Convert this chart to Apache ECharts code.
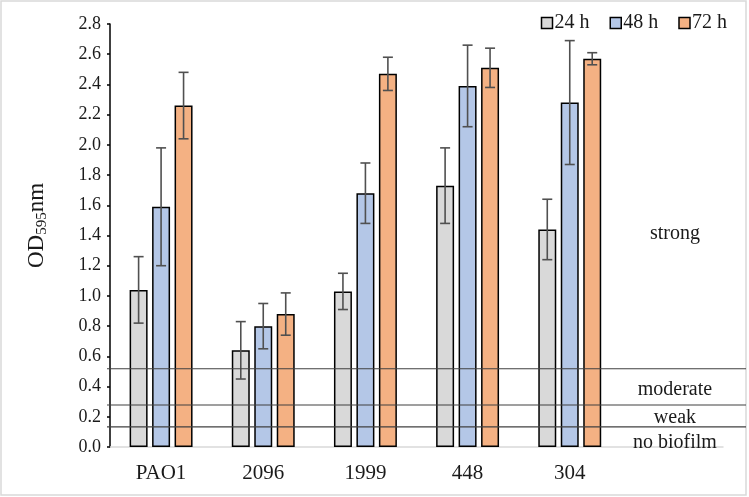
<!DOCTYPE html>
<html>
<head>
<meta charset="utf-8">
<script src="https://cdn.jsdelivr.net/npm/echarts@6/dist/echarts.min.js"></script>
<style>
  html, body { margin: 0; padding: 0; background: #fff; }
  #chart { width: 749px; height: 497px; }
</style>
</head>
<body>
<div id="chart"></div>
<script>
// ---- Data ----
const categories = ["PAO1", "2096", "1999", "448", "304", ""];
const seriesNames = ["24 h", "48 h", "72 h"];
const values24 = [1.04, 0.64, 1.03, 1.73, 1.44];
const values48 = [1.59, 0.80, 1.68, 2.39, 2.28];
const values72 = [2.26, 0.88, 2.47, 2.51, 2.57];
const errors24 = [0.22, 0.19, 0.12, 0.25, 0.20];
const errors48 = [0.39, 0.15, 0.20, 0.27, 0.41];
const errors72 = [0.22, 0.14, 0.11, 0.13, 0.04];
const yTicks = { min: 0, max: 2.8, step: 0.2 };

// threshold lines and band labels
const thresholds = [0.518, 0.278, 0.133];
const bandNames = ["strong", "moderate", "weak", "no biofilm"];
const bandLabelY = [1.41, 0.38, 0.195, 0.03];

const COLORS = ["#d9d9d9", "#b4c7e7", "#f4b183"];
const FONT = "Liberation Serif";
const TXT = "#1a1a1a";
const BAR_W = 0.176;   // fraction of category band
const BAR_GAP = 0.25;  // fraction of bar width

const chart = echarts.init(document.getElementById("chart"));

const allValues = [values24, values48, values72];
const allErrors = [errors24, errors48, errors72];

function errorSeries(idx) {
    const data = allValues[idx].map((v, i) => [i, v, allErrors[idx][i]]);
    return {
        type: "custom",
        name: seriesNames[idx] + " err",
        z: 10,
        silent: true,
        data: data,
        renderItem: function (params, api) {
            const x = api.value(0), v = api.value(1), e = api.value(2);
            const band = api.size([1, 0])[0];
            const bw = band * BAR_W;
            const off = (idx - 1) * bw * (1 + BAR_GAP);
            const top = api.coord([x, v + e]);
            const bot = api.coord([x, v - e]);
            const cx = top[0] + off;
            const cap = 5;
            const style = { stroke: "#505050", lineWidth: 1.6 };
            return {
                type: "group",
                children: [
                    { type: "line", shape: { x1: cx, y1: top[1], x2: cx, y2: bot[1] }, style },
                    { type: "line", shape: { x1: cx - cap, y1: top[1], x2: cx + cap, y2: top[1] }, style },
                    { type: "line", shape: { x1: cx - cap, y1: bot[1], x2: cx + cap, y2: bot[1] }, style }
                ]
            };
        }
    };
}

const barSeries = seriesNames.map((name, i) => ({
    type: "bar",
    name: name,
    data: allValues[i],
    barWidth: (BAR_W * 100) + "%",
    barGap: (BAR_GAP * 100) + "%",
    itemStyle: { color: COLORS[i], borderColor: "#000", borderWidth: 1.5 }
}));

chart.setOption({
    animation: false,
    textStyle: { fontFamily: FONT, color: TXT },
    grid: { left: 110, right: 26, top: 24, bottom: 50 },
    legend: {
        data: seriesNames,
        right: 17,
        top: 8,
        icon: "rect",
        itemWidth: 11,
        itemHeight: 11,
        itemGap: 20,
        itemStyle: { borderColor: "#000", borderWidth: 1.5 },
        textStyle: { fontFamily: FONT, fontSize: 20, color: TXT, padding: [0, 0, 0, -3] }
    },
    xAxis: {
        type: "category",
        data: categories,
        axisLine: { lineStyle: { color: "#d9d9d9", width: 1.5 } },
        axisTick: { show: false },
        axisLabel: { fontFamily: FONT, fontSize: 21, color: TXT, margin: 16, interval: 0 },
        splitLine: { show: false }
    },
    yAxis: {
        type: "value",
        min: yTicks.min,
        max: yTicks.max,
        interval: yTicks.step,
        axisLine: { show: true, lineStyle: { color: "#000", width: 1.5 } },
        axisTick: { show: true, length: 3, lineStyle: { color: "#000", width: 1.5 } },
        axisLabel: { fontFamily: FONT, fontSize: 18, color: TXT, margin: 9, formatter: v => v.toFixed(1) },
        splitLine: { show: false },
        name: "{a|OD}{b|595}{a|nm}",
        nameLocation: "middle",
        nameRotate: 90,
        nameGap: 60,
        nameTextStyle: {
            padding: [0, 0, 0, 20],
            rich: {
                a: { fontFamily: FONT, fontSize: 23, color: TXT },
                b: { fontFamily: FONT, fontSize: 15, color: TXT, padding: [11, 0, 0, 0] }
            }
        }
    },
    series: barSeries.concat([errorSeries(0), errorSeries(1), errorSeries(2)])
});

// threshold lines + band labels placed through the y scale
const graphics = [{
    type: "rect",
    shape: { x: 1, y: 1, width: 745, height: 494 },
    style: { fill: "none", stroke: "#d9d9d9", lineWidth: 1.5 },
    silent: true
}];
thresholds.forEach(t => {
    const y = chart.convertToPixel({ yAxisIndex: 0 }, t);
    graphics.push({
        type: "line",
        z: 20,
        shape: { x1: 107, y1: y, x2: 746, y2: y },
        style: { stroke: "#404040", lineWidth: 1.2 },
        silent: true
    });
});
const labelX = chart.convertToPixel({ xAxisIndex: 0 }, categories.length - 1) + 3;
bandNames.forEach((name, i) => {
    const y = chart.convertToPixel({ yAxisIndex: 0 }, bandLabelY[i]);
    graphics.push({
        type: "text",
        z: 20,
        x: labelX,
        y: y,
        style: { text: name, fontFamily: FONT, fontSize: 20, fill: TXT, align: "center", verticalAlign: "middle" },
        silent: true
    });
});
chart.setOption({ graphic: graphics });
</script>
</body>
</html>
